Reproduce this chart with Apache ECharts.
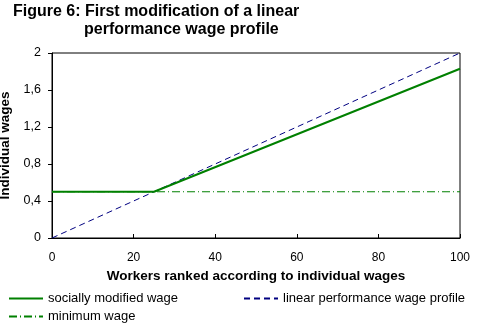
<!DOCTYPE html>
<html><head><meta charset="utf-8">
<script src="https://cdn.jsdelivr.net/npm/echarts@6/dist/echarts.min.js"></script>
<style>html,body{margin:0;padding:0;background:#fff}#c{width:481px;height:330px}</style>
</head><body><div id="c"></div>
<script>
var xTicks = [0, 20, 40, 60, 80, 100];
var yTicks = [0, 0.4, 0.8, 1.2, 1.6, 2];
var socialX = [0, 25, 100];
var socialY = [0.5, 0.5, 1.83];
var linearX = [0, 100];
var linearY = [0, 2];
var minX = [0, 100];
var minY = [0.5, 0.5];
function pairs(xs, ys){ return xs.map(function(x,i){return [x, ys[i]];}); }
var F = 'Liberation Sans, Arial, sans-serif';
var chart = echarts.init(document.getElementById('c'));
var legTxt = {fontFamily: F, fontSize: 13, color: '#000'};
chart.setOption({
  animation: false,
  backgroundColor: '#fff',
  title: [
    {text: 'Figure 6: First modification of a linear', left: 13, top: 4, padding: 0, textStyle: {fontFamily: F, fontSize: 16, fontWeight: 'bold', color: '#000'}},
    {text: 'performance wage profile', left: 84, top: 22, padding: 0, textStyle: {fontFamily: F, fontSize: 16, fontWeight: 'bold', color: '#000'}}
  ],
  grid: {left: 52, right: 21, top: 53, bottom: 92, show: true, borderColor: '#000', borderWidth: 1, backgroundColor: 'transparent', outerBoundsMode: 'none', containLabel: false},
  xAxis: {type: 'value', min: 0, max: 100, interval: 20,
    name: 'Workers ranked according to individual wages', nameLocation: 'middle', nameGap: 28,
    nameTextStyle: {fontFamily: F, fontSize: 13.5, fontWeight: 'bold', color: '#000'},
    axisLine: {lineStyle: {color: '#000'}}, axisTick: {inside: true, length: 4, lineStyle: {color: '#000'}},
    splitLine: {show: false}, axisLabel: {fontFamily: F, fontSize: 12, color: '#000', margin: 14}},
  yAxis: {type: 'value', min: 0, max: 2, interval: 0.4,
    name: 'Individual wages', nameLocation: 'middle', nameGap: 26, nameRotate: 90,
    nameTextStyle: {fontFamily: F, fontSize: 13.5, fontWeight: 'bold', color: '#000'},
    axisLine: {show: true, lineStyle: {color: '#000'}}, axisTick: {show: true, length: 4, lineStyle: {color: '#000'}},
    splitLine: {show: false},
    axisLabel: {fontFamily: F, fontSize: 12.5, color: '#000', margin: 11, padding: [4, 0, 0, 0], formatter: function(v){return String(+v.toFixed(1)).replace('.', ',');}}},
  legend: [
    {data: ['socially modified wage'], left: 8, top: 292, padding: 0, itemWidth: 34, itemHeight: 14, itemGap: 4, itemStyle: {opacity: 0}, textStyle: legTxt},
    {data: ['linear performance wage profile'], left: 243, top: 292, padding: 0, itemWidth: 34, itemHeight: 14, itemStyle: {opacity: 0}, textStyle: legTxt},
    {data: ['minimum wage'], left: 8, top: 310, padding: 0, itemWidth: 34, itemHeight: 14, itemStyle: {opacity: 0}, textStyle: legTxt}
  ],
  series: [
    {name: 'minimum wage', type: 'line', data: pairs(minX, minY), showSymbol: false, symbol: 'none', z: 1,
      lineStyle: {color: '#008000', width: 1, type: [8, 3, 1, 3]}, itemStyle: {color: '#008000'}},
    {name: 'linear performance wage profile', type: 'line', data: pairs(linearX, linearY), showSymbol: false, symbol: 'none', z: 2,
      lineStyle: {color: '#000080', width: 1, type: [6, 4]}, itemStyle: {color: '#000080'}},
    {name: 'socially modified wage', type: 'line', data: pairs(socialX, socialY), showSymbol: false, symbol: 'none', z: 3,
      lineStyle: {color: '#008000', width: 2}, itemStyle: {color: '#008000'}}
  ]
});
</script></body></html>
